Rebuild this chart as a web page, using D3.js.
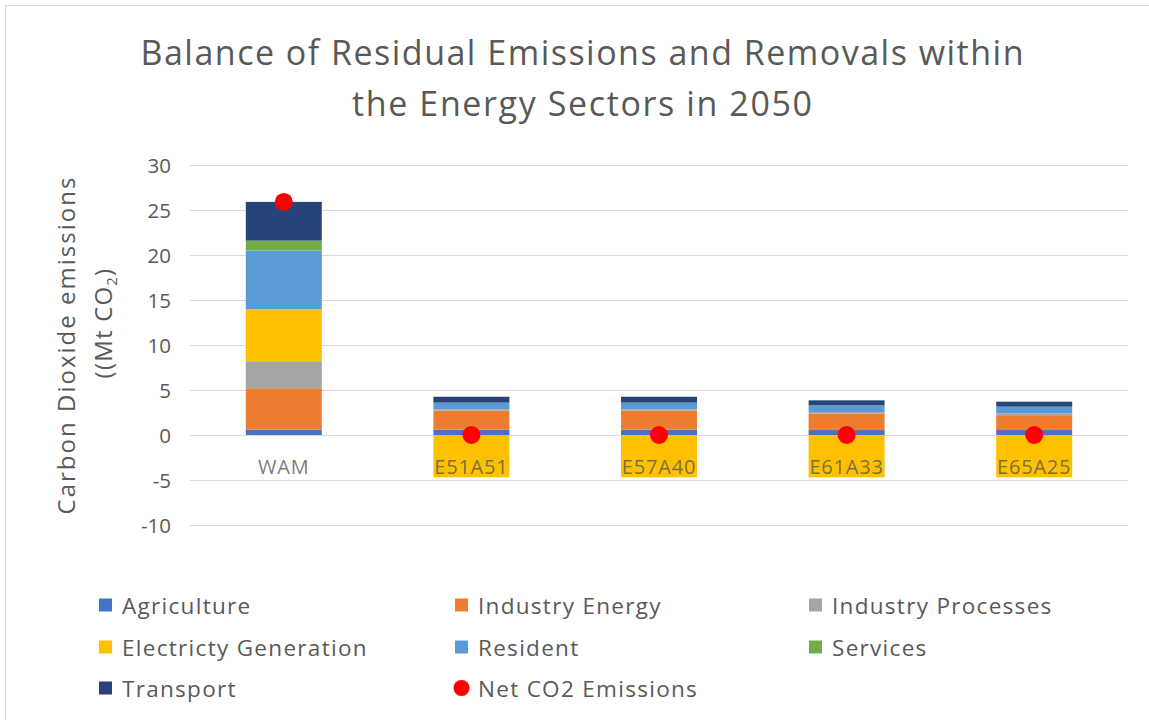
<!DOCTYPE html>
<html><head><meta charset="utf-8">
<script src="https://cdn.jsdelivr.net/npm/d3@7"></script>
<style>body{margin:0;background:#fff}svg{display:block}text{font-family:"Open Sans",sans-serif}</style>
</head><body><svg id="c" width="1149" height="720"></svg>
<script>
const categories = ["WAM","E51A51","E57A40","E61A33","E65A25"];
const seriesNames = ["Agriculture","Industry Energy","Industry Processes","Electricty Generation","Resident","Services","Transport"];
const agriculture = [0.6,0.6,0.6,0.55,0.55];
const industryEnergy = [4.6,2.1,2.1,1.85,1.65];
const industryProcesses = [3.0,0.15,0.15,0.15,0.2];
const electricityGeneration = [5.8,-4.7,-4.7,-4.7,-4.7];
const resident = [6.5,0.75,0.75,0.75,0.75];
const services = [1.1,0,0,0,0];
const transport = [4.3,0.65,0.65,0.55,0.55];
const netCO2 = [25.9,0,0,0,0];
const yTicks = [-10,-5,0,5,10,15,20,25,30];
const netName = "Net CO2 Emissions";
const colors = ["#4472C4","#ED7D31","#A5A5A5","#FFC000","#5B9BD5","#70AD47","#264478"];

const seriesVals = [agriculture,industryEnergy,industryProcesses,electricityGeneration,resident,services,transport];
const rows = categories.map((c,i)=>{const r={cat:c};seriesNames.forEach((s,j)=>r[s]=seriesVals[j][i]);return r;});

const svg = d3.select("#c");
svg.append("rect").attr("x",5.5).attr("y",5.5).attr("width",1160).attr("height",730).attr("fill","#fff").attr("stroke","#d9d9d9");

const x = d3.scaleBand().domain(categories).range([190,1128]).paddingInner(0.595).paddingOuter(0.2975);
const y = d3.scaleLinear().domain([-10,30]).range([525,165]);

// gridlines
svg.append("g").selectAll("line").data(yTicks).join("line")
  .attr("x1",190).attr("x2",1128).attr("y1",d=>y(d)+0.5).attr("y2",d=>y(d)+0.5)
  .attr("stroke","#d9d9d9").attr("stroke-width",1);
svg.append("g").selectAll("text").data(yTicks).join("text")
  .attr("x",171).attr("y",d=>y(d)).attr("text-anchor","end").attr("dominant-baseline","central")
  .attr("fill","#595959").attr("font-size",20.5).text(d=>d);

// stacked bars
const stack = d3.stack().keys(seriesNames).offset(d3.stackOffsetDiverging);
const layers = stack(rows);
svg.append("g").selectAll("g").data(layers).join("g").attr("fill",(d,i)=>colors[i])
  .selectAll("rect").data(d=>d).join("rect")
  .attr("x",d=>x(d.data.cat)).attr("width",x.bandwidth())
  .attr("y",d=>y(Math.max(d[0],d[1]))).attr("height",d=>Math.abs(y(d[0])-y(d[1])));

// category labels
svg.append("g").selectAll("text").data(categories).join("text")
  .attr("x",d=>x(d)+x.bandwidth()/2).attr("y",466).attr("text-anchor","middle").attr("dominant-baseline","central")
  .attr("fill","#595959").attr("fill-opacity",0.8).attr("font-size",20).attr("letter-spacing",0.8).text(d=>d);

// net dots
svg.append("g").selectAll("circle").data(netCO2).join("circle")
  .attr("cx",(d,i)=>x(categories[i])+x.bandwidth()/2).attr("cy",d=>y(d)).attr("r",9).attr("fill","#FF0000");

// title
svg.append("text").attr("x",582).attr("y",65).attr("text-anchor","middle").attr("fill","#595959").attr("font-size",34)
  .attr("textLength",883).attr("lengthAdjust","spacing").text("Balance of Residual Emissions and Removals within");
svg.append("text").attr("x",582).attr("y",116).attr("text-anchor","middle").attr("fill","#595959").attr("font-size",34)
  .attr("textLength",460).attr("lengthAdjust","spacing").text("the Energy Sectors in 2050");

// y title
svg.append("text").attr("transform","translate(75,346) rotate(-90)").attr("text-anchor","middle")
  .attr("fill","#595959").attr("font-size",24).attr("textLength",337).attr("lengthAdjust","spacing").text("Carbon Dioxide emissions");
const yt2 = svg.append("text").attr("transform","translate(112,323) rotate(-90)").attr("text-anchor","middle")
  .attr("fill","#595959").attr("font-size",24).attr("letter-spacing",1.2);
yt2.append("tspan").text("((Mt CO");
yt2.append("tspan").attr("font-size",15).attr("dy",5).text("2");
yt2.append("tspan").attr("dy",-5).text(")");

// legend
const legendItems = seriesNames.map((s,i)=>({name:s,color:colors[i],type:"rect"})).concat([{name:netName,color:"#FF0000",type:"circle"}]);
const colX = [99,455,809], rowY = [605,647,688];
const lg = svg.append("g").selectAll("g").data(legendItems).join("g")
  .attr("transform",(d,i)=>`translate(${colX[i%3]},${rowY[Math.floor(i/3)]})`);
lg.filter(d=>d.type==="rect").append("rect").attr("x",0).attr("y",-6.5).attr("width",13).attr("height",13).attr("fill",d=>d.color);
lg.filter(d=>d.type==="circle").append("circle").attr("cx",6.5).attr("cy",0).attr("r",8).attr("fill",d=>d.color);
lg.append("text").attr("x",23).attr("y",0).attr("dominant-baseline","central").attr("fill","#595959").attr("font-size",22.5).attr("letter-spacing",1.3).text(d=>d.name);
</script></body></html>
